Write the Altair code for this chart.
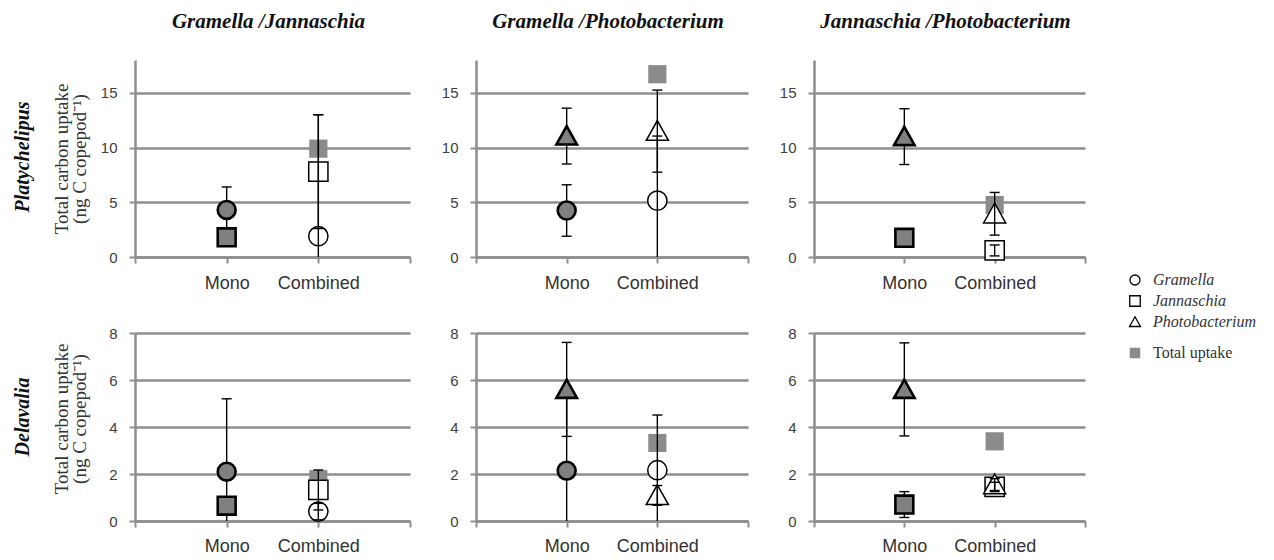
import altair as alt
import pandas as pd

copepods = ["Platychelipus", "Delavalia"]
pairs = ["Gramella /Jannaschia", "Gramella /Photobacterium", "Jannaschia /Photobacterium"]
pair_taxa = [["Gramella", "Jannaschia"], ["Gramella", "Photobacterium"], ["Jannaschia", "Photobacterium"]]
row_treatment = ["Mono", "Mono", "Combined", "Combined", "Combined"]
legend_taxa = ["Gramella", "Jannaschia", "Photobacterium"]
total_label = "Total uptake"

# carbon uptake (ng C copepod-1) per pairing, ordered:
# taxon A mono, taxon B mono, taxon A combined, taxon B combined, total combined
platy_mean = [
    [4.3, 1.8, 1.9, 7.8, 9.9],
    [4.25, 11.05, 5.15, 11.5, 16.7],
    [1.75, 11.0, 0.6, 3.95, 4.75],
]
platy_sd = [
    [2.1, 0.4, 11.1, 5.2, None],
    [2.35, 2.55, 5.9, 3.75, None],
    [0.3, 2.55, 0.5, 1.95, None],
]
dela_mean = [
    [2.1, 0.65, 0.4, 1.32, 1.78],
    [2.14, 5.6, 2.16, 1.09, 3.32],
    [0.7, 5.6, 1.45, 1.55, 3.39],
]
dela_sd = [
    [3.1, 0.3, 0.35, 0.85, None],
    [3.4, 2.0, 2.35, 0.42, None],
    [0.55, 1.98, 0.2, 0.25, None],
]

GRID = "#8e8e8e"
GREY_FILL = "#808080"
TOTAL_FILL = "#8b8b8b"
TRI = "M0,-1.1L1.15,0.95L-1.15,0.95Z"
SERIF = "Liberation Serif"
SANS = "Liberation Sans"

x_slots = ["", "Mono", "Combined", " "]
shape_scale = alt.Scale(domain=legend_taxa, range=["circle", "square", TRI])


def note(text, x, y, size, angle=0, italic=False, bold=False, color="#222222", align="center"):
    return alt.Chart(pd.DataFrame({"t": [text]})).mark_text(
        font=SERIF, fontSize=size, angle=angle,
        fontStyle="italic" if italic else "normal",
        fontWeight="bold" if bold else "normal",
        color=color, align=align, baseline="middle",
    ).encode(text="t:N", x=alt.value(x), y=alt.value(y))


def legend_symbol(shape, fill, stroke, size, x, y):
    return alt.Chart(pd.DataFrame({"s": [shape]})).mark_point(
        shape=shape, filled=True, color=fill, stroke=stroke,
        strokeWidth=1.3 if stroke else 0, size=size, opacity=1,
    ).encode(x=alt.value(x), y=alt.value(y))


def panel(mean, sd, taxa, ymax, yvals, width, height, col_title=None,
          row_title=None, title_y=None, legend=False, label_pad=20):
    df = pd.DataFrame({
        "taxon": [taxa[0], taxa[1], taxa[0], taxa[1], total_label],
        "treatment": row_treatment,
        "uptake": mean,
        "sd": sd,
    })
    x = alt.X(
        "treatment:N", title=None,
        scale=alt.Scale(type="point", domain=x_slots, padding=0),
        axis=alt.Axis(
            labelAngle=0, labelFont=SANS, labelFontSize=18, labelColor="#333333",
            labelPadding=label_pad, labelBaseline="middle",
            domainColor=GRID, domainWidth=2.5, tickColor=GRID, tickWidth=2,
            tickSize=6, grid=False,
        ),
    )

    def y(field):
        return alt.Y(
            field, title=None,
            scale=alt.Scale(domain=[0, ymax], nice=False, zero=True),
            axis=alt.Axis(
                values=yvals, grid=True, gridColor=GRID, gridWidth=2.5,
                labelFont=SANS, labelFontSize=15, labelColor="#404040",
                labelPadding=12, domainColor=GRID, domainWidth=2.5,
                tickColor=GRID, tickWidth=2, tickSize=6,
            ),
        )

    base = alt.Chart(df).encode(x=x)
    mono = base.transform_filter("datum.treatment == 'Mono'")
    comb = base.transform_filter(
        "datum.treatment == 'Combined' && datum.taxon != '%s'" % total_label)
    total = base.transform_filter("datum.taxon == '%s'" % total_label)

    def errorbars(b):
        b = b.transform_filter("isValid(datum.sd)").transform_calculate(
            lo="datum.uptake - datum.sd", hi="datum.uptake + datum.sd")
        bar = b.mark_rule(color="black", strokeWidth=1.4, clip=True).encode(
            y=y("lo:Q"), y2="hi:Q")
        cap_lo = b.mark_tick(color="black", thickness=1.4, size=10, clip=True,
                             opacity=1).encode(y=y("lo:Q"))
        cap_hi = b.mark_tick(color="black", thickness=1.4, size=10, clip=True,
                             opacity=1).encode(y=y("hi:Q"))
        return [bar, cap_lo, cap_hi]

    mono_pts = mono.mark_point(
        filled=True, color=GREY_FILL, stroke="black", strokeWidth=2.6,
        size=320, opacity=1,
    ).encode(y=y("uptake:Q"), shape=alt.Shape("taxon:N", scale=shape_scale, legend=None))
    total_pts = total.mark_square(color=TOTAL_FILL, size=330, opacity=1).encode(
        y=y("uptake:Q"))
    comb_pts = comb.mark_point(
        filled=True, color="white", stroke="black", strokeWidth=1.5,
        size=370, opacity=1,
    ).encode(y=y("uptake:Q"), shape=alt.Shape("taxon:N", scale=shape_scale, legend=None))

    layers = errorbars(mono) + [mono_pts, total_pts, comb_pts] + errorbars(comb)

    if col_title:
        layers.append(note(col_title, width / 2 - 4, -38, 21, italic=True, bold=True,
                           color="#111111"))
    if row_title:
        layers.append(note(row_title, -112, title_y, 20, angle=270, italic=True,
                           bold=True, color="#111111"))
        layers.append(note("Total carbon uptake", -73, title_y + 2, 19, angle=270,
                           color="#333333"))
        layers.append(note("(ng C copepod⁻¹)", -55, title_y + 2, 19, angle=270,
                           color="#333333"))
    if legend:
        sx, tx = 321, 339
        rows = [220, 241, 262, 293]
        layers.append(legend_symbol("circle", "white", "black", 100, sx, rows[0]))
        layers.append(legend_symbol("square", "white", "black", 110, sx, rows[1]))
        layers.append(legend_symbol(TRI, "white", "black", 90, sx, rows[2]))
        layers.append(legend_symbol("square", TOTAL_FILL, None, 110, sx, rows[3]))
        for lab, ry in zip(legend_taxa, rows[:3]):
            layers.append(note(lab, tx, ry, 16, italic=True, color="#333333", align="left"))
        layers.append(note(total_label, tx, rows[3], 16, color="#333333", align="left"))

    return alt.layer(*layers).properties(width=width, height=height)


widths = [275, 272, 271]
top_row = [
    panel(platy_mean[i], platy_sd[i], pair_taxa[i], 18, [0, 5, 10, 15],
          widths[i], 197, col_title=pairs[i],
          row_title=copepods[0] if i == 0 else None, title_y=97,
          legend=(i == 2), label_pad=20)
    for i in range(3)
]
bottom_row = [
    panel(dela_mean[i], dela_sd[i], pair_taxa[i], 8, [0, 2, 4, 6, 8],
          widths[i], 188, row_title=copepods[1] if i == 0 else None,
          title_y=84, label_pad=19)
    for i in range(3)
]

chart = alt.concat(
    *(top_row + bottom_row), columns=3,
    spacing={"row": 76, "column": 66}, bounds="flush", align="each",
).properties(
    padding={"left": 13, "top": 11, "right": 5, "bottom": 5},
    background="white",
).configure_view(stroke=None)

chart.save("out.html", embed_options={"renderer": "svg", "actions": False})
